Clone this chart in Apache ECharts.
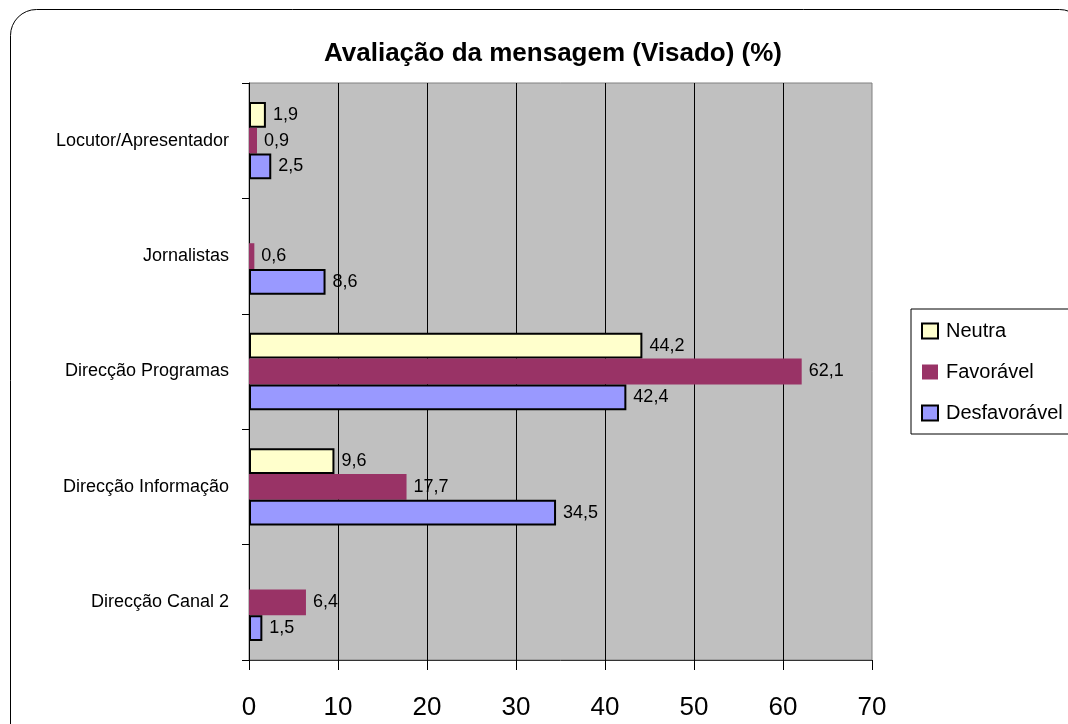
<!DOCTYPE html>
<html>
<head>
<meta charset="utf-8">
<script src="https://cdn.jsdelivr.net/npm/echarts@6/dist/echarts.min.js"></script>
<style>html,body{margin:0;padding:0;background:#fff;}#chart{width:1068px;height:724px;}</style>
</head>
<body>
<div id="chart"></div>
<script>
const categories = ['Direcção Canal 2', 'Direcção Informação', 'Direcção Programas', 'Jornalistas', 'Locutor/Apresentador'];
const neutra = [null, 9.6, 44.2, null, 1.9];
const favoravel = [6.4, 17.7, 62.1, 0.6, 0.9];
const desfavoravel = [1.5, 34.5, 42.4, 8.6, 2.5];
const xTicks = [0, 10, 20, 30, 40, 50, 60, 70];
const titleText = 'Avaliação da mensagem (Visado) (%)';

const chart = echarts.init(document.getElementById('chart'));
const fmt = p => String(p.value).replace('.', ',');
const labelCfg = { show: true, position: 'right', distance: 7, color: '#000', fontSize: 18, fontFamily: 'Liberation Sans, Arial', formatter: fmt };

chart.setOption({
  animation: false,
  backgroundColor: '#fff',
  graphic: [{
    type: 'rect', z: -10, silent: true,
    shape: { x: 10.5, y: 9.5, width: 1075, height: 760, r: 26 },
    style: { fill: 'none', stroke: '#000', lineWidth: 1 }
  }],
  title: {
    text: titleText, left: 548, top: 36, textAlign: 'center',
    textStyle: { fontFamily: 'Liberation Sans, Arial', fontWeight: 'bold', fontSize: 26, color: '#000' }
  },
  legend: {
    data: ['Neutra', 'Favorável', 'Desfavorável'],
    orient: 'vertical', left: 911, top: 309,
    padding: [12, 10, 11, 10],
    itemWidth: 16, itemHeight: 15, itemGap: 21,
    backgroundColor: '#fff', borderColor: '#000', borderWidth: 1,
    textStyle: { fontFamily: 'Liberation Sans, Arial', fontSize: 20, color: '#000', lineHeight: 20, padding: [0, 0, 0, 3] },
    icon: 'rect'
  },
  grid: {
    left: 249, right: 196, top: 83, bottom: 64,
    show: true, backgroundColor: '#C0C0C0', borderColor: '#808080', borderWidth: 1
  },
  xAxis: {
    type: 'value', min: xTicks[0], max: xTicks[xTicks.length - 1], interval: 10,
    axisLine: { show: true, lineStyle: { color: '#333', width: 1 } },
    axisTick: { show: true, length: 10, lineStyle: { color: '#000' } },
    axisLabel: { margin: 35, fontSize: 26, color: '#000', fontFamily: 'Liberation Sans, Arial' },
    splitLine: { show: true, showMaxLine: false, lineStyle: { color: '#000', width: 1 } }
  },
  yAxis: {
    type: 'category', data: categories,
    axisLine: { show: true, lineStyle: { color: '#000', width: 1 } },
    axisTick: { show: true, length: 7, lineStyle: { color: '#000' } },
    axisLabel: { margin: 20, fontSize: 18, color: '#000', fontFamily: 'Liberation Sans, Arial' }
  },
  series: [
    { name: 'Neutra', type: 'bar', data: neutra, barGap: '0%', barCategoryGap: '33%',
      itemStyle: { color: '#FFFFCC', borderColor: '#000', borderWidth: 2 }, label: labelCfg },
    { name: 'Favorável', type: 'bar', data: favoravel,
      itemStyle: { color: '#993366', borderWidth: 0 }, label: labelCfg },
    { name: 'Desfavorável', type: 'bar', data: desfavoravel,
      itemStyle: { color: '#9999FF', borderColor: '#000', borderWidth: 2 }, label: labelCfg }
  ]
});
</script>
</body>
</html>
